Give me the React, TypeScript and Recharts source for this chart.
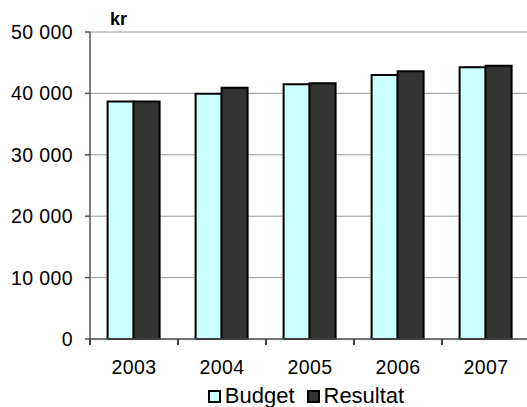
import React from "react";
import { BarChart, Bar, XAxis, YAxis, CartesianGrid, Legend } from "recharts";

const years = ["2003", "2004", "2005", "2006", "2007"];
const budget = [38700, 39950, 41500, 43000, 44250];
const resultat = [38700, 40900, 41650, 43600, 44500];
const yTicks = [0, 10000, 20000, 30000, 40000, 50000];

const data = years.map((year, i) => ({ year, Budget: budget[i], Resultat: resultat[i] }));

const font = "'Liberation Sans', Arial, sans-serif";
const textStyle = { fontFamily: font, fontSize: 19.5, letterSpacing: 0.4 };
const fmt = (v: number) => String(v).replace(/\B(?=(\d{3})+(?!\d))/g, " ");

const CHART_W = 535;
const MARGIN = { top: 32, right: 5, left: 0, bottom: 0 };
const Y_W = 90;
const X_TICK_MARGIN = 21;
const BAND = (CHART_W - MARGIN.left - MARGIN.right - Y_W) / years.length;
const AXIS = "#555";

// category label, plus the Excel-style tick mark on the left edge of each band
function YearTick(props: any) {
  const { x, y, payload } = props;
  const axisY = Number(y) - X_TICK_MARGIN;
  const edge = Number(x) - BAND / 2;
  return (
    <g>
      <path d={`M${edge},${axisY}V${axisY + 6}`} stroke="#444" strokeWidth={2} fill="none" />
      <text x={x} y={y} dy="0.71em" textAnchor="middle" fill="#000" style={textStyle}>
        {payload.value}
      </text>
    </g>
  );
}

function LegendBox({ payload }: any) {
  return (
    <div style={{ display: "flex", justifyContent: "center", alignItems: "center", height: 22, paddingLeft: 94, color: "#000", fontFamily: font, fontSize: 22 }}>
      {(payload || []).map((p: any) => (
        <span key={p.value} style={{ display: "flex", alignItems: "center", marginRight: 12 }}>
          <span style={{ width: 9, height: 9, border: "2px solid #000", background: p.color, marginRight: 4 }} />
          {p.value}
        </span>
      ))}
    </div>
  );
}

export default function App() {
  return (
    <div style={{ position: "absolute", left: 0, top: 0, width: 527, height: 407, overflow: "hidden", background: "#fff" }}>
      <div style={{ position: "absolute", left: 110, top: 9, fontFamily: font, fontWeight: "bold", fontSize: 18 }}>kr</div>
      <BarChart
        width={CHART_W}
        height={407}
        data={data}
        margin={MARGIN}
        barCategoryGap="20%"
        barGap={0}
      >
        <CartesianGrid vertical={false} stroke="#999" />
        <XAxis
          dataKey="year"
          height={46}
          stroke={AXIS}
          strokeWidth={1.5}
          tickLine={false}
          tickSize={0}
          tickMargin={X_TICK_MARGIN}
          tick={(p: any) => <YearTick {...p} />}
        />
        <YAxis
          width={Y_W}
          domain={[0, 50000]}
          ticks={yTicks}
          tickFormatter={fmt}
          stroke={AXIS}
          strokeWidth={1.5}
          tickSize={5}
          tickMargin={12}
          tick={{ fill: "#000", ...textStyle }}
        />
        <Legend verticalAlign="bottom" height={22} content={<LegendBox />} />
        <Bar dataKey="Budget" fill="#CCFFFF" stroke="#000" strokeWidth={2} isAnimationActive={false} />
        <Bar dataKey="Resultat" fill="#333333" stroke="#000" strokeWidth={2} isAnimationActive={false} />
      </BarChart>
    </div>
  );
}
